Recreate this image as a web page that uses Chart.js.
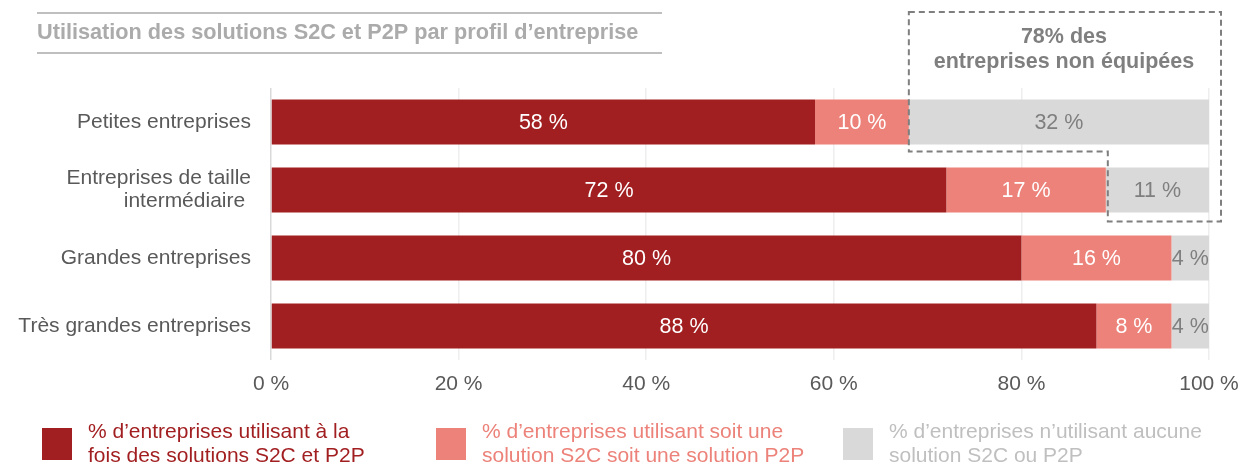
<!DOCTYPE html>
<html>
<head>
    <meta charset='utf-8'>
    <title>Utilisation des solutions S2C et P2P</title>
    <script src="https://cdn.jsdelivr.net/npm/chart.js"></script>
    <style>
        body { margin: 0; background: #fff; }
        .wrap { width: 1243px; height: 466px; }
    </style>
</head>
<body>
    <div class="wrap">
        <canvas id="profilChart" width="1243" height="466"></canvas>
    </div>
    <script>

        // categories (y axis)
        var categories = [
            'Petites entreprises',
            ['Entreprises de taille', 'intermédiaire '],
            'Grandes entreprises',
            'Très grandes entreprises'
        ];

        // % of companies per profile
        var bothSolutions = [58, 72, 80, 88];
        var oneSolution = [10, 17, 16, 8];
        var noSolution = [32, 11, 4, 4];

        var xTickLabels = ['0 %', '20 %', '40 %', '60 %', '80 %', '100 %'];

        var seriesNames = [
            ['% d\u2019entreprises utilisant à la', 'fois des solutions S2C et P2P'],
            ['% d\u2019entreprises utilisant soit une', 'solution S2C soit une solution P2P'],
            ['% d\u2019entreprises n\u2019utilisant aucune', 'solution S2C ou P2P']
        ];

        var chartTitle = 'Utilisation des solutions S2C et P2P par profil d\u2019entreprise';
        var boxNote = ['78% des', 'entreprises non équipées'];

        const COLORS = {
            dark: '#a21f21',
            salmon: '#ec8279',
            grey: '#d9d9d9',
            text: '#595959',
            note: '#7f7f7f'
        };
        const FONT = "'Liberation Sans', Arial, sans-serif";

        Chart.defaults.font.family = FONT;
        Chart.defaults.color = COLORS.text;

        // values written inside each segment
        const barLabels = {
            id: 'barLabels',
            afterDatasetsDraw(chart) {
                const ctx = chart.ctx;
                ctx.save();
                ctx.font = '21.5px ' + FONT;
                ctx.textAlign = 'center';
                ctx.textBaseline = 'middle';
                chart.data.datasets.forEach((ds, di) => {
                    const meta = chart.getDatasetMeta(di);
                    meta.data.forEach((bar, i) => {
                        ctx.fillStyle = di === 2 ? COLORS.note : '#ffffff';
                        const cx = (bar.x + bar.base) / 2;
                        ctx.fillText(ds.data[i] + ' %', cx, bar.y + 1);
                    });
                });
                ctx.restore();
            }
        };

        // title, dashed callout and legend
        const decorations = {
            id: 'decorations',
            afterDraw(chart) {
                const ctx = chart.ctx;
                ctx.save();

                // title between two rules
                ctx.strokeStyle = '#bfbfbf';
                ctx.lineWidth = 2;
                ctx.beginPath();
                ctx.moveTo(37, 13); ctx.lineTo(662, 13);
                ctx.moveTo(37, 53); ctx.lineTo(662, 53);
                ctx.stroke();
                ctx.font = 'bold 21.7px ' + FONT;
                ctx.fillStyle = '#ababab';
                ctx.textAlign = 'left';
                ctx.textBaseline = 'middle';
                ctx.fillText(chartTitle, 37, 33);

                // callout around the "no solution" segments
                const meta = chart.getDatasetMeta(2);
                const b0 = meta.data[0], b1 = meta.data[1];
                const h0 = b0.height / 2, h1 = b1.height / 2;
                const left = b0.base, step = b1.base + 2;
                const right = chart.chartArea.right + 12;
                const top = 12, mid = b0.y + h0 + 7, bottom = b1.y + h1 + 9;
                ctx.strokeStyle = COLORS.note;
                ctx.lineWidth = 2;
                ctx.setLineDash([6, 4]);
                ctx.beginPath();
                ctx.moveTo(left, top);
                ctx.lineTo(right, top);
                ctx.lineTo(right, bottom);
                ctx.lineTo(step, bottom);
                ctx.lineTo(step, mid);
                ctx.lineTo(left, mid);
                ctx.closePath();
                ctx.stroke();
                ctx.setLineDash([]);
                ctx.font = 'bold 21.5px ' + FONT;
                ctx.fillStyle = COLORS.note;
                ctx.textAlign = 'center';
                const nx = (left + right) / 2 - 1;
                ctx.fillText(boxNote[0], nx, 37);
                ctx.fillText(boxNote[1], nx, 62);

                // legend
                const items = [
                    { x: 42, color: COLORS.dark, text: COLORS.dark },
                    { x: 436, color: COLORS.salmon, text: COLORS.salmon },
                    { x: 843, color: COLORS.grey, text: '#bfbfbf' }
                ];
                ctx.font = '21px ' + FONT;
                ctx.textAlign = 'left';
                items.forEach((it, k) => {
                    ctx.fillStyle = it.color;
                    ctx.fillRect(it.x, 428, 30, 32);
                    ctx.fillStyle = it.text;
                    ctx.fillText(seriesNames[k][0], it.x + 46, 432);
                    ctx.fillText(seriesNames[k][1], it.x + 46, 456);
                });

                ctx.restore();
            }
        };

        var dataBars = {
            labels: categories,
            datasets: [{
                label: seriesNames[0].join(' '),
                backgroundColor: COLORS.dark,
                data: bothSolutions
            }, {
                label: seriesNames[1].join(' '),
                backgroundColor: COLORS.salmon,
                data: oneSolution
            }, {
                label: seriesNames[2].join(' '),
                backgroundColor: COLORS.grey,
                data: noSolution
            }]
        };

        const barConfig = {
            type: 'bar',
            data: dataBars,
            plugins: [barLabels, decorations],
            options: {
                indexAxis: 'y',
                responsive: false,
                animation: false,
                barPercentage: 0.66,
                categoryPercentage: 1,
                layout: {
                    padding: { top: 88, right: 34, bottom: 66, left: 0 }
                },
                plugins: {
                    legend: { display: false },
                    tooltip: { enabled: false }
                },
                scales: {
                    x: {
                        stacked: true,
                        min: 0,
                        max: 100,
                        border: { display: false },
                        grid: {
                            drawTicks: false,
                            lineWidth: 1.5,
                            color: c => c.tick && c.tick.value === 0 ? '#d9d9d9' : '#eeeeee'
                        },
                        ticks: {
                            stepSize: 20,
                            padding: 12,
                            color: COLORS.text,
                            font: { size: 21 },
                            callback: (v, i) => xTickLabels[i]
                        },
                        // keep the "100 %" label from shrinking the plot area
                        afterFit: s => {
                            s.height = 40;
                            s.paddingLeft = 0;
                            s.paddingRight = 0;
                        }
                    },
                    y: {
                        stacked: true,
                        border: { display: false },
                        grid: { display: false, drawTicks: false },
                        ticks: {
                            padding: 20,
                            color: COLORS.text,
                            font: { size: 21, lineHeight: 1.1 }
                        },
                        afterFit: s => { s.width = 271; }
                    }
                }
            }
        };

        const ctx1 = document.getElementById('profilChart').getContext('2d');
        const profilChart = new Chart(ctx1, barConfig);

    </script>
</body>
</html>
